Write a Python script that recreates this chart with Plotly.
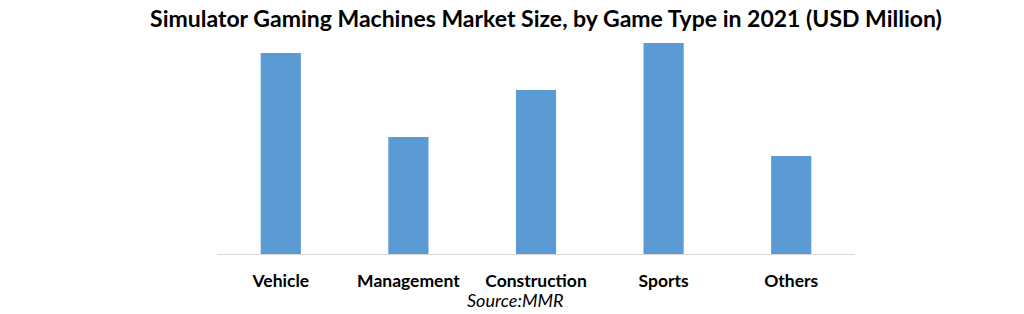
import plotly.graph_objects as go

categories = ["Vehicle", "Management", "Construction", "Sports", "Others"]
values = [201, 117, 164, 211, 98]

fig = go.Figure(go.Bar(x=categories, y=values, marker_color="#5B9BD5",
                       marker_line_width=0, width=0.315))

fig.update_layout(
    width=1024, height=314,
    margin=dict(l=217, r=169, t=34, b=60),
    plot_bgcolor="white", paper_bgcolor="white",
    showlegend=False,
    title=dict(text="<b>Simulator Gaming Machines Market Size, by Game Type in 2021 (USD Million)</b>",
               x=546/1024, xanchor="center", y=1-19/314, yanchor="middle",
               font=dict(family="Lato", size=23, color="#000000")),
    xaxis=dict(showline=True, linecolor="#D9D9D9", linewidth=1, ticks="",
               tickfont=dict(family="Lato", size=17.5, color="#000000"),
               ticklabelstandoff=11, tickprefix="<b>", ticksuffix="</b>"),
    yaxis=dict(range=[0, 220], visible=False, showgrid=False),
    annotations=[dict(text="<i>Source:MMR</i>", xref="paper", yref="paper",
                      x=(515-217)/638, y=-(300-254)/220, xanchor="center", yanchor="middle",
                      showarrow=False, font=dict(family="Lato", size=18, color="#000000"))],
)

fig.write_html("out.html")
